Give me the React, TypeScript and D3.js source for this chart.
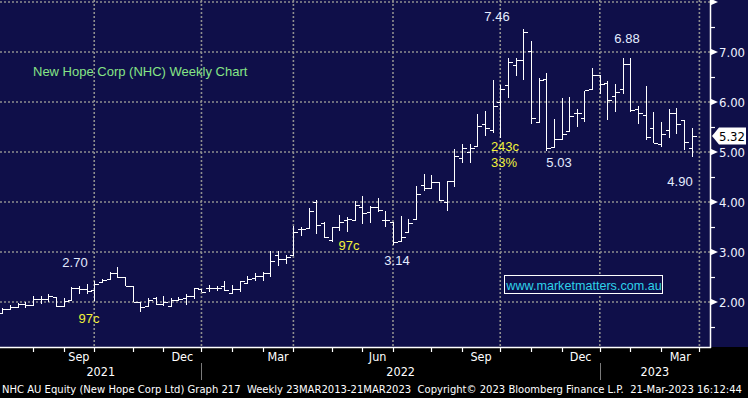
import { useEffect, useRef } from "react";
import * as d3 from "d3";

// weekly bars, Fridays Jul 2 2021 .. Mar 24 2023 (plus one empty slot for Mar 31 2023)
const weeks = d3.timeFriday.range(new Date(2021, 6, 2), new Date(2023, 3, 1));

const open = [
  1.78, 1.87, 1.90, 1.96, 1.95, 2.07, 2.06, 2.10, 1.93, 2.05,
  2.29, 2.27, 2.25, 2.41, 2.46, 2.59, 2.50, 2.32, 2.00, 1.92,
  2.09, 1.97, 1.93, 2.05, 2.08, 2.13, 2.27, 2.28, 2.29, 2.33,
  2.18, 2.27, 2.38, 2.48, 2.53, 2.59, 2.93, 2.85, 2.93, 3.45,
  3.47, 4.00, 3.59, 3.25, 3.51, 3.63, 3.63, 3.90, 3.80, 3.89,
  3.63, 3.60, 3.23, 3.40, 3.67, 4.34, 4.28, 4.41, 4.00, 4.42,
  4.89, 4.99, 5.13, 5.56, 5.45, 5.99, 6.33, 6.74, 6.83, 7.03,
  5.60, 6.46, 5.11, 5.26, 5.41, 5.78, 5.68, 6.26, 6.54, 6.39,
  6.13, 6.26, 6.77, 5.86, 5.73, 5.48, 5.15, 5.43, 5.79, 5.64,
  5.09,
];
const high = [
  1.89, 1.95, 1.99, 2.00, 2.13, 2.13, 2.17, 2.10, 2.08, 2.30,
  2.33, 2.37, 2.43, 2.47, 2.60, 2.70, 2.50, 2.33, 2.00, 2.09,
  2.11, 2.13, 2.09, 2.11, 2.17, 2.28, 2.27, 2.35, 2.33, 2.43,
  2.35, 2.43, 2.53, 2.59, 2.60, 3.03, 3.03, 2.95, 3.53, 3.51,
  3.88, 4.05, 3.61, 3.50, 3.75, 3.70, 4.03, 4.12, 3.93, 4.09,
  3.83, 3.60, 3.73, 3.67, 4.33, 4.57, 4.55, 4.41, 4.42, 5.07,
  5.16, 5.16, 5.77, 5.83, 6.45, 6.35, 6.88, 6.88, 7.46, 7.22,
  6.48, 6.58, 5.66, 6.09, 6.11, 5.86, 6.23, 6.69, 6.54, 6.42,
  6.36, 6.89, 6.88, 5.93, 6.32, 5.81, 5.60, 5.86, 5.89, 5.64,
  5.48,
];
const low = [
  1.76, 1.85, 1.88, 1.89, 1.93, 1.97, 2.00, 1.90, 1.93, 2.03,
  2.17, 2.17, 2.03, 2.38, 2.46, 2.48, 2.33, 2.00, 1.81, 1.91,
  1.95, 1.93, 1.91, 2.02, 1.95, 2.07, 2.20, 2.20, 2.23, 2.23,
  2.18, 2.21, 2.38, 2.43, 2.42, 2.50, 2.73, 2.76, 2.93, 3.32,
  3.47, 3.37, 3.28, 3.21, 3.43, 3.41, 3.63, 3.57, 3.59, 3.80,
  3.50, 3.14, 3.23, 3.40, 3.67, 4.23, 4.28, 4.03, 3.82, 4.30,
  4.78, 4.78, 5.13, 5.32, 5.39, 5.29, 6.09, 6.52, 6.45, 5.57,
  5.59, 5.03, 5.11, 5.26, 5.41, 5.51, 5.60, 6.26, 6.17, 5.65,
  5.81, 6.16, 5.81, 5.56, 5.25, 5.19, 5.11, 5.28, 5.36, 5.05,
  4.90,
];
const close = [
  1.87, 1.90, 1.96, 1.95, 2.07, 2.06, 2.13, 1.93, 2.03, 2.29,
  2.27, 2.23, 2.37, 2.45, 2.59, 2.50, 2.33, 2.00, 1.91, 2.05,
  1.97, 2.00, 2.05, 2.07, 2.13, 2.28, 2.21, 2.29, 2.29, 2.25,
  2.27, 2.42, 2.47, 2.52, 2.59, 2.83, 2.85, 2.91, 3.41, 3.45,
  3.83, 3.55, 3.30, 3.49, 3.61, 3.67, 3.93, 3.79, 3.90, 3.85,
  3.63, 3.21, 3.31, 3.59, 4.17, 4.28, 4.40, 4.03, 4.42, 4.93,
  5.09, 5.09, 5.52, 5.48, 5.92, 6.26, 6.81, 6.83, 7.40, 5.67,
  6.43, 5.07, 5.26, 5.36, 5.72, 5.78, 6.23, 6.54, 6.36, 6.03,
  6.21, 6.75, 5.83, 5.79, 5.30, 5.19, 5.36, 5.77, 5.56, 5.20,
  5.32,
];

const priceTicks = [2, 3, 4, 5, 6, 7, 8];
const minorTicks = [1.5, 2.5, 3.5, 4.5, 5.5, 6.5, 7.5];
const lastPrice = "5.32";

const notes = [
  { text: "7.46", x: 497, y: 16, color: "#e4ecff" },
  { text: "6.88", x: 627, y: 38, color: "#e4ecff" },
  { text: "5.03", x: 559, y: 162, color: "#e4ecff" },
  { text: "4.90", x: 680, y: 181, color: "#e4ecff" },
  { text: "3.14", x: 397, y: 260, color: "#e4ecff" },
  { text: "2.70", x: 75, y: 262, color: "#e4ecff" },
  { text: "243c", x: 505, y: 146, color: "#f2f23a" },
  { text: "33%", x: 504, y: 162, color: "#f2f23a" },
  { text: "97c", x: 349, y: 245, color: "#f2f23a" },
  { text: "97c", x: 89, y: 318, color: "#f2f23a" },
];

const footer =
  "NHC AU Equity (New Hope Corp Ltd) Graph 217  Weekly 23MAR2013-21MAR2023  Copyright\u00A9 2023 Bloomberg Finance L.P.  21-Mar-2023 16:12:44";

const W = 748, H = 398;
const plotRight = 710, plotBottom = 347;
const bbFont = "'DejaVu Sans Condensed', 'Liberation Sans Narrow', 'DejaVu Sans', sans-serif";
const noteFont = "'Liberation Sans', Arial, sans-serif";

const App = () => {
  const svgRef = useRef<SVGSVGElement>(null);

  useEffect(() => {
    if (!svgRef.current) return;
    const svg = d3.select(svgRef.current);
    svg.selectAll("*").remove();

    const x = d3.scalePoint<Date>().domain(weeks).range([2.3, 699.4]);
    const y = d3.scaleLinear().domain([1.1, 8.04]).range([plotBottom, 0]);
    const px = (d: Date) => Math.round(x(d)!) + 0.5;
    const py = (v: number) => Math.round(y(v)) + 0.5;

    // backgrounds
    svg.append("rect").attr("width", W).attr("height", H).attr("fill", "#000");
    svg.append("rect").attr("width", W).attr("height", plotBottom).attr("fill", "#0f0f49");

    // month ends (last weekly slot of each month)
    const monthEnds = d3.groups(weeks, d => +d3.timeMonth(d)).map(([, ds]) => ds[ds.length - 1]);
    const quarterEnds = monthEnds.filter(d => d.getMonth() % 3 === 2);
    const yearEnds = monthEnds.filter(d => d.getMonth() === 11);

    const grid = svg.append("g")
      .attr("stroke", "#8f8f8f").attr("stroke-width", 1.6).attr("stroke-dasharray", "2,2");
    grid.selectAll("line.h").data(priceTicks).join("line").attr("class", "h")
      .attr("x1", 0).attr("x2", plotRight).attr("y1", d => y(d)).attr("y2", d => y(d));
    grid.selectAll("line.v").data(quarterEnds).join("line").attr("class", "v")
      .attr("x1", d => x(d)!).attr("x2", d => x(d)!).attr("y1", 0).attr("y2", plotBottom);

    // OHLC bars
    const bars = svg.append("g").attr("stroke", "#fff").attr("stroke-width", 1.4)
      .attr("shape-rendering", "crispEdges");
    const idx = d3.range(close.length);
    bars.selectAll("line.hl").data(idx).join("line").attr("class", "hl")
      .attr("x1", i => px(weeks[i])).attr("x2", i => px(weeks[i]))
      .attr("y1", i => y(high[i])).attr("y2", i => y(low[i]));
    bars.selectAll("line.o").data(idx).join("line").attr("class", "o")
      .attr("x1", i => px(weeks[i]) - 4).attr("x2", i => px(weeks[i]))
      .attr("y1", i => py(open[i])).attr("y2", i => py(open[i]));
    bars.selectAll("line.c").data(idx).join("line").attr("class", "c")
      .attr("x1", i => px(weeks[i])).attr("x2", i => px(weeks[i]) + 4)
      .attr("y1", i => py(close[i])).attr("y2", i => py(close[i]));

    // axes lines
    svg.append("line").attr("x1", plotRight + 0.5).attr("x2", plotRight + 0.5)
      .attr("y1", 0).attr("y2", plotBottom + 1).attr("stroke", "#fff").attr("stroke-width", 1.5);
    svg.append("line").attr("x1", 0).attr("x2", plotRight + 1)
      .attr("y1", plotBottom + 0.5).attr("y2", plotBottom + 0.5).attr("stroke", "#fff").attr("stroke-width", 1.5);

    // right axis
    svg.selectAll("path.tri").data(priceTicks).join("path").attr("class", "tri")
      .attr("d", d => `M${plotRight},${y(d) - 3.5}L${plotRight + 8},${y(d)}L${plotRight},${y(d) + 3.5}Z`)
      .attr("fill", "#fff");
    svg.selectAll("line.minor").data(minorTicks).join("line").attr("class", "minor")
      .attr("x1", plotRight).attr("x2", plotRight + 5).attr("y1", d => py(d)).attr("y2", d => py(d))
      .attr("stroke", "#fff").attr("stroke-width", 1.2);
    svg.selectAll("text.ylab").data(priceTicks.filter(d => d < 8)).join("text").attr("class", "ylab")
      .attr("x", 719).attr("y", d => y(d)).attr("dy", "0.36em")
      .attr("font-family", bbFont).attr("font-size", 13).attr("fill", "#eef2ff")
      .text(d => d3.format(".2f")(d));

    // last price tag
    const ly = y(+lastPrice);
    svg.append("path")
      .attr("d", `M712,${ly}L719,${ly - 8.5}L746,${ly - 8.5}L746,${ly + 8.5}L719,${ly + 8.5}Z`)
      .attr("fill", "#fff");
    svg.append("text").attr("x", 732).attr("y", ly).attr("dy", "0.36em").attr("text-anchor", "middle")
      .attr("font-family", bbFont).attr("font-size", 13).attr("fill", "#000").text(lastPrice);

    // bottom axis ticks and labels
    svg.selectAll("line.mt").data(monthEnds).join("line").attr("class", "mt")
      .attr("x1", d => px(d)).attr("x2", d => px(d)).attr("y1", plotBottom).attr("y2", plotBottom + 5)
      .attr("stroke", "#fff").attr("stroke-width", 1.2);
    const fmtMonth = d3.timeFormat("%b");
    svg.selectAll("text.mlab").data(quarterEnds).join("text").attr("class", "mlab")
      .attr("x", d => {
        const k = monthEnds.indexOf(d);
        const prev = k > 0 ? x(monthEnds[k - 1])! : 0;
        return (prev + x(d)!) / 2;
      })
      .attr("y", 356).attr("dy", "0.36em").attr("text-anchor", "middle")
      .attr("font-family", bbFont).attr("font-size", 12.5).attr("fill", "#fff")
      .text(d => fmtMonth(d));

    const bounds = [0, ...yearEnds.map(d => x(d)!), plotRight];
    const years = ["2021", "2022", "2023"];
    svg.selectAll("text.ylab2").data(years).join("text").attr("class", "ylab2")
      .attr("x", (_, i) => (bounds[i] + bounds[i + 1]) / 2).attr("y", 371).attr("dy", "0.36em")
      .attr("text-anchor", "middle").attr("font-family", bbFont).attr("font-size", 12.5).attr("fill", "#fff")
      .text(d => d);
    svg.selectAll("line.ysep").data(yearEnds).join("line").attr("class", "ysep")
      .attr("x1", d => px(d)).attr("x2", d => px(d)).attr("y1", 363).attr("y2", 380)
      .attr("stroke", "#7a7a7a").attr("stroke-width", 1);

    svg.append("text").attr("x", 2).attr("y", 389).attr("dy", "0.36em")
      .attr("font-family", bbFont).attr("font-size", 11).attr("fill", "#fff")
      .attr("textLength", 740).attr("lengthAdjust", "spacingAndGlyphs")
      .style("white-space", "pre")
      .text(footer);

    // annotations
    svg.append("text").attr("x", 33).attr("y", 71).attr("dy", "0.36em")
      .attr("font-family", noteFont).attr("font-size", 13).attr("fill", "#86e486")
      .text("New Hope Corp (NHC) Weekly Chart");
    svg.selectAll("text.note").data(notes).join("text").attr("class", "note")
      .attr("x", d => d.x).attr("y", d => d.y).attr("dy", "0.36em").attr("text-anchor", "middle")
      .attr("font-family", noteFont).attr("font-size", 13).attr("fill", d => d.color)
      .text(d => d.text);

    svg.append("rect").attr("x", 504.5).attr("y", 275.5).attr("width", 158).attr("height", 18)
      .attr("fill", "#0f0f49").attr("stroke", "#fff").attr("stroke-width", 1);
    svg.append("text").attr("x", 584).attr("y", 285).attr("dy", "0.36em").attr("text-anchor", "middle")
      .attr("font-family", noteFont).attr("font-size", 12.6).attr("fill", "#2ed2ea")
      .text("www.marketmatters.com.au");
  }, []);

  return (
    <svg ref={svgRef} width={W} height={H}
      style={{ position: "absolute", left: 0, top: 0, display: "block" }} />
  );
};

export default App;
